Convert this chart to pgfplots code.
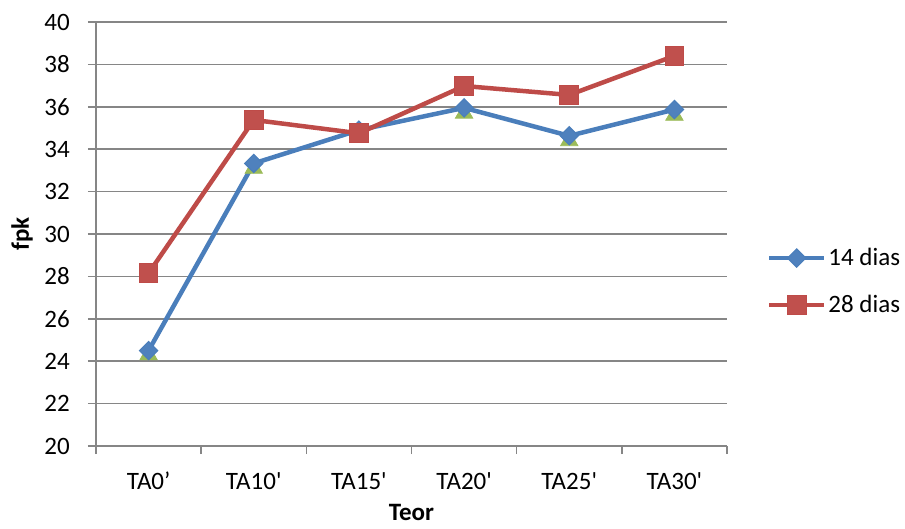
\documentclass[border=0pt]{standalone}
\usepackage{fontspec}
\setmainfont{Carlito}
\usepackage{pgfplots}
\pgfplotsset{compat=1.18}

\definecolor{axgray}{RGB}{134,134,134}
\definecolor{line14}{RGB}{74,126,187}
\definecolor{fill14}{RGB}{79,129,189}
\definecolor{line28}{RGB}{190,75,72}
\definecolor{fill28}{RGB}{192,80,77}
\definecolor{teor}{RGB}{155,187,89}

\newcommand\lbl{\fontsize{25bp}{30bp}\selectfont}

\begin{document}
\begin{tikzpicture}
\useasboundingbox (0,0) rectangle (905bp,529bp);
\begin{axis}[
  at={(96bp,83bp)}, anchor=south west,
  scale only axis, width=631bp, height=424bp,
  xmin=-0.5, xmax=5.5, ymin=20, ymax=40,
  ytick={20,22,...,40},
  xtick={-0.5,0.5,...,5.5},
  xticklabels={TA0’,TA10\textquotesingle,TA15\textquotesingle,TA20\textquotesingle,TA25\textquotesingle,TA30\textquotesingle},
  x tick label as interval,
  axis x line*=bottom, axis y line*=left,
  axis line style={draw=axgray, line width=1.5bp, -},
  ymajorgrids, grid style={draw=axgray, line width=1.5bp},
  tick align=outside, major tick length=8bp,
  tick style={draw=axgray, line width=1.5bp},
  /pgf/number format/assume math mode=true,
  tick label style={font=\lbl},
  yticklabel style={inner sep=0pt, xshift=-18bp},
  xticklabel style={inner sep=0pt, yshift=-18bp},
  xlabel={Teor}, ylabel={fpk},
  label style={font=\lbl\bfseries},
  xlabel style={at={(axis description cs:0.5,-0.175)}, anchor=base, inner sep=0pt},
  ylabel style={at={(axis description cs:-0.117,0.5)}, anchor=center},
  legend style={draw=none, fill=none, font=\lbl, inner sep=0pt,
    at={(axis description cs:1.063,0.388)}, anchor=west,
    row sep=24bp,
    /tikz/every even column/.append style={column sep=6bp}},
  legend cell align=left,
  legend image code/.code={%
    \draw[mark repeat=2,mark phase=2,#1] plot coordinates {(0bp,0bp) (27.5bp,0bp) (55bp,0bp)};},
]
% theoretical values, markers only
\addplot[forget plot, draw=none, mark=triangle*, mark size=10bp,
  mark options={fill=teor, draw=teor, line width=0.8bp}]
  coordinates {(0,24.3) (1,33.1) (2,34.7) (3,35.7) (4,34.4) (5,35.6)};
% 14 days
\addplot[line14, line width=4.5bp, mark=square*, mark size=6.5bp,
  mark options={rotate=45, fill=fill14, draw=line14, line width=1bp}]
  coordinates {(0,24.5) (1,33.33) (2,34.9) (3,35.95) (4,34.63) (5,35.87)};
\addlegendentry{14 dias}
% 28 days
\addplot[line28, line width=4.5bp, mark=square*, mark size=9.3bp,
  mark options={fill=fill28, draw=line28, line width=1bp}]
  coordinates {(0,28.15) (1,35.38) (2,34.75) (3,36.98) (4,36.56) (5,38.4)};
\addlegendentry{28 dias}
\end{axis}
\end{tikzpicture}
\end{document}
